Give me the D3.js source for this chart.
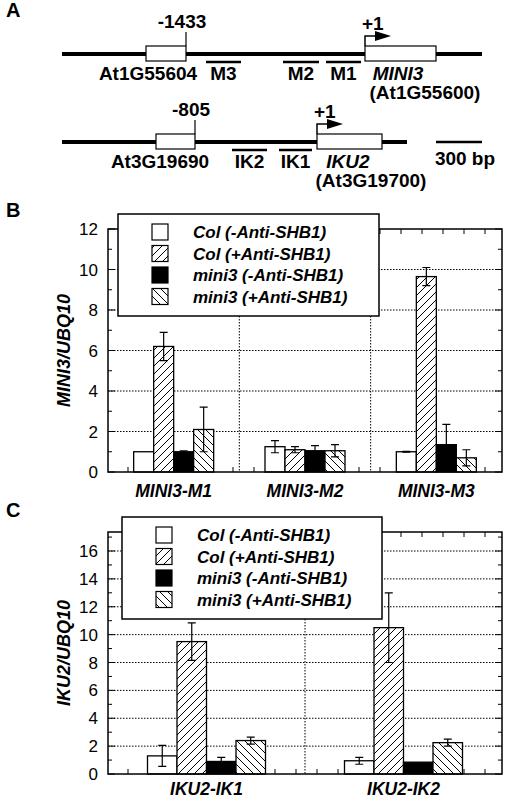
<!DOCTYPE html>
<html><head><meta charset="utf-8">
<script src="https://cdn.jsdelivr.net/npm/d3@7"></script>
<style>body{margin:0;background:#fff}svg{font-family:"Liberation Sans",Arial,sans-serif}</style>
</head><body><svg id="c" width="529" height="800"></svg>
<script>
const series = ["Col (-Anti-SHB1)","Col (+Anti-SHB1)","mini3 (-Anti-SHB1)","mini3 (+Anti-SHB1)"];
const catsB = ["MINI3-M1","MINI3-M2","MINI3-M3"];
const valsB = [[1.0,6.2,1.0,2.1],[1.25,1.1,1.05,1.05],[1.0,9.65,1.35,0.7]];
const errB  = [[0,0.7,0.05,1.1],[0.3,0.15,0.25,0.3],[0.02,0.45,1.0,0.4]];
const catsC = ["IKU2-IK1","IKU2-IK2"];
const valsC = [[1.3,9.5,0.9,2.4],[0.95,10.5,0.85,2.25]];
const errC  = [[0.75,1.35,0.3,0.25],[0.25,2.5,0,0.25]];
const ticksB = [0,2,4,6,8,10,12];
const ticksC = [0,2,4,6,8,10,12,14,16];

const svg = d3.select("#c");
const defs = svg.append("defs");
function hatch(id, d){
  const p = defs.append("pattern").attr("id",id).attr("patternUnits","userSpaceOnUse").attr("width",8).attr("height",8);
  p.append("rect").attr("width",8).attr("height",8).attr("fill","#fff");
  p.append("path").attr("d",d).attr("stroke","#000").attr("stroke-width",1);
}
hatch("fw","M-2,10 L10,-2 M-2,2 L2,-2 M6,10 L10,6");
hatch("bw","M-2,-2 L10,10 M-2,6 L2,10 M6,-2 L10,2");
const fills = ["#fff","url(#fw)","#000","url(#bw)"];

[["A",17],["B",217],["C",517]].forEach(([t,y])=>svg.append("text").attr("x",6).attr("y",y).attr("font-size",20).attr("font-weight","bold").text(t));

const gA = svg.append("g").attr("font-weight","bold").attr("font-size",19);
function gene(y, x0, x1, box1, tickLbl, box2, primers, labels, gname, gid, off){
  gA.append("line").attr("x1",x0).attr("x2",x1).attr("y1",y).attr("y2",y).attr("stroke","#000").attr("stroke-width",4);
  gA.append("rect").attr("x",box1[0]).attr("y",y-8).attr("width",box1[1]-box1[0]).attr("height",15).attr("fill","#fff").attr("stroke","#000").attr("stroke-width",1.2);
  gA.append("line").attr("x1",box1[1]).attr("x2",box1[1]).attr("y1",y-8).attr("y2",y-22).attr("stroke","#000").attr("stroke-width",1.2);
  gA.append("text").attr("x",box1[1]-4).attr("y",y-26).attr("text-anchor","middle").text(tickLbl);
  gA.append("rect").attr("x",box2[0]).attr("y",y-8).attr("width",box2[1]-box2[0]).attr("height",15).attr("fill","#fff").attr("stroke","#000").attr("stroke-width",1.2);
  gA.append("path").attr("d",`M${box2[0]},${y-8}V${y-18}H${box2[0]+14}`).attr("fill","none").attr("stroke","#000").attr("stroke-width",1.5);
  gA.append("path").attr("d",`M${box2[0]+10},${y-23}L${box2[0]+26},${y-18}L${box2[0]+10},${y-13}Z`).attr("fill","#000");
  gA.append("text").attr("x",box2[0]-3).attr("y",y-24).text("+1");
  primers.forEach(p=>{
    gA.append("line").attr("x1",p[0]).attr("x2",p[1]).attr("y1",y+8).attr("y2",y+8).attr("stroke","#000").attr("stroke-width",2.5);
    gA.append("text").attr("x",(p[0]+p[1])/2).attr("y",y+26).attr("text-anchor","middle").text(p[2]);
  });
  gA.append("text").attr("x",labels).attr("y",y+26).attr("text-anchor","middle").text(gname[0]);
  gA.append("text").attr("x",box2[0]+off[0]).attr("y",y+26).attr("text-anchor","middle").attr("font-style","italic").text(gname[1]);
  gA.append("text").attr("x",box2[0]+off[1]).attr("y",y+45).attr("text-anchor","middle").text(gid);
}
gene(54,62,482,[146,186],"-1433",[365,436],[[206,241,"M3"],[283,319,"M2"],[326,361,"M1"]],148,["At1G55604","MINI3"],"(At1G55600)",[33,60]);
gene(142,62,407,[156,195],"-805",[317,382],[[232,267,"IK2"],[279,312,"IK1"]],160,["At3G19690","IKU2"],"(At3G19700)",[31,54]);
gA.append("line").attr("x1",436).attr("x2",482).attr("y1",142).attr("y2",142).attr("stroke","#000").attr("stroke-width",2.5);
gA.append("text").attr("x",465).attr("y",165).attr("text-anchor","middle").text("300 bp");

function chart(top,bottom,ymax,ticks,cats,vals,errs,bw,ylabel,legBox,minorStep,lblOff){
  const x0=108,x1=502;
  const y=d3.scaleLinear().domain([0,ymax]).range([bottom,top]);
  const xb=d3.scaleBand().domain(cats).range([x0,x1]);
  const g=svg.append("g");
  ticks.slice(1).forEach(t=>{ if(y(t)>top+1) g.append("line").attr("x1",x0).attr("x2",x1).attr("y1",y(t)).attr("y2",y(t)).attr("stroke","#000").attr("stroke-dasharray","1.5,1.5").attr("stroke-width",1);});
  cats.slice(1).forEach(c=>g.append("line").attr("x1",xb(c)).attr("x2",xb(c)).attr("y1",top).attr("y2",bottom).attr("stroke","#000").attr("stroke-dasharray","1.5,1.5"));
  d3.range(0,ymax+0.001,minorStep).forEach(t=>{
    const L = ticks.includes(Math.round(t*1000)/1000)?7:4;
    [[x0,1],[x1,-1]].forEach(([xx,s])=>g.append("line").attr("x1",xx).attr("x2",xx+s*L).attr("y1",y(t)).attr("y2",y(t)).attr("stroke","#000"));
  });
  d3.range(x0+20,x1,21).forEach(xx=>{
    [[bottom,-1],[top,1]].forEach(([yy,s])=>g.append("line").attr("x1",xx).attr("x2",xx).attr("y1",yy).attr("y2",yy+s*5).attr("stroke","#000"));
  });
  cats.forEach((c,i)=>{
    const cx=xb(c)+xb.bandwidth()/2;
    vals[i].forEach((v,j)=>{
      const bx=cx-2*bw+j*bw;
      g.append("rect").attr("x",bx).attr("y",y(v)).attr("width",bw).attr("height",y(0)-y(v)).attr("fill",fills[j]).attr("stroke","#000").attr("stroke-width",1.3);
      const e=errs[i][j];
      if(e>0){const m=bx+bw/2;
        g.append("path").attr("d",`M${m},${y(v-e)}V${y(v+e)}M${m-4},${y(v+e)}H${m+4}M${m-4},${y(v-e)}H${m+4}`).attr("stroke","#000").attr("stroke-width",1.2).attr("fill","none");}
    });
    g.append("text").attr("x",cx).attr("y",bottom+lblOff).attr("text-anchor","middle").attr("font-size",17.5).attr("font-weight","bold").attr("font-style","italic").text(c);
  });
  g.append("rect").attr("x",x0).attr("y",top).attr("width",x1-x0).attr("height",bottom-top).attr("fill","none").attr("stroke","#000").attr("stroke-width",1.5);
  ticks.forEach(t=>g.append("text").attr("x",x0-10).attr("y",y(t)+6).attr("text-anchor","end").attr("font-size",17).text(t));
  g.append("text").attr("transform",`translate(70,${(top+bottom)/2}) rotate(-90)`).attr("text-anchor","middle").attr("font-size",18).attr("font-weight","bold").attr("font-style","italic").text(ylabel);
  const [lx,ly,lw,lh]=legBox;
  g.append("rect").attr("x",lx).attr("y",ly).attr("width",lw).attr("height",lh).attr("fill","#fff").attr("stroke","#000").attr("stroke-width",1.5);
  series.forEach((s,j)=>{
    const yy=ly+18+j*21.5;
    g.append("rect").attr("x",lx+34).attr("y",yy-8).attr("width",16).attr("height",16).attr("fill",fills[j]).attr("stroke","#000").attr("stroke-width",1.2);
    g.append("text").attr("x",lx+75).attr("y",yy+6).attr("font-size",17).attr("font-weight","bold").attr("font-style","italic").text(s);
  });
}
chart(229,472,12,ticksB,catsB,valsB,errB,20,"MINI3/UBQ10",[118,214,261,102],1,25);
chart(532,774,(774-532)/((774-551)/16),ticksC,catsC,valsC,errC,29.5,"IKU2/UBQ10",[122,517,260,102],1,21);
</script></body></html>
